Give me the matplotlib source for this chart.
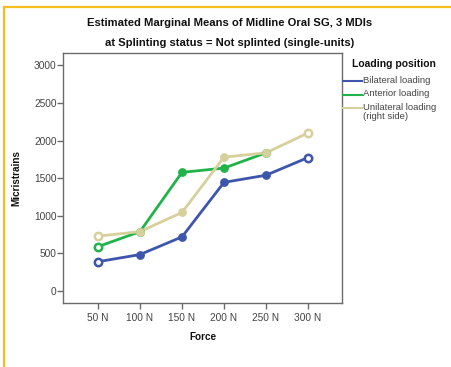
import numpy as np
import matplotlib
matplotlib.use("Agg")
import matplotlib.pyplot as plt
from matplotlib.lines import Line2D

plt.rcParams['font.family'] = ['Liberation Sans', 'DejaVu Sans']

categories = ["50 N", "100 N", "150 N", "200 N", "250 N", "300 N"]
bilateral = [390, 485, 720, 1445, 1540, 1775]
anterior = [590, 790, 1578, 1635, 1838, np.nan]
unilateral = [730, 790, 1045, 1780, 1838, 2102]
series_names = ["Bilateral loading", "Anterior loading", "Unilateral loading\n(right side)"]
series_colors = ["#3D56AC", "#22B24A", "#D6D09C"]
yticks = [0, 500, 1000, 1500, 2000, 2500, 3000]

W, H = 452, 367
fig = plt.figure(figsize=(W / 100, H / 100), dpi=100)
fig.patch.set_facecolor("white")

# axes in pixel coordinates
L, R, T, B = 63.5, 342.5, 53, 303
ax = fig.add_axes([L / W, 1 - B / H, (R - L) / W, (B - T) / H])

x = np.arange(len(categories))
for vals, col in zip([bilateral, anterior, unilateral], series_colors):
    v = np.array(vals, dtype=float)
    ax.plot(x, v, color=col, lw=2.0, solid_capstyle='round', zorder=3)
    valid = np.where(~np.isnan(v))[0]
    ends = [valid[0], valid[-1]] if valid[-1] == len(v) - 1 else [valid[0]]
    mids = [i for i in valid if i not in ends]
    ax.plot(x[mids], v[mids], 'o', color=col, ms=5.3, mec=col, mfc=col, zorder=4)
    ax.plot(x[ends], v[ends], 'o', color=col, ms=5.3, mec=col, mew=1.8, mfc='white', zorder=4)

ax.set_xlim(-0.82, 5.82)
ax.set_ylim(-159, 3165)
ax.set_xticks(x)
ax.set_xticklabels(categories)
ax.set_yticks(yticks)
ax.set_yticklabels([str(t) for t in yticks])
for s in ax.spines.values():
    s.set_color("#6b6b6b")
    s.set_linewidth(1.0)
ax.tick_params(axis='both', colors="#6b6b6b", labelcolor="#444444", labelsize=7.3,
               length=4, width=1.0, direction='out')
ax.tick_params(axis='x', pad=3)
ax.tick_params(axis='y', pad=1)

ax.set_xlabel("Force", fontsize=7.2, fontweight='bold', labelpad=7, color="#111111")
ax.set_ylabel("Micristrains", fontsize=7.2, fontweight='bold', labelpad=9, color="#111111")

fig.text(230 / W, 1 - 23.3 / H, "Estimated Marginal Means of Midline Oral SG, 3 MDIs",
         ha='center', va='center', fontsize=8.1, fontweight='bold', color="#111111")
fig.text(230 / W, 1 - 43.3 / H, "at Splinting status = Not splinted (single-units)",
         ha='center', va='center', fontsize=8.1, fontweight='bold', color="#111111")

# legend (manual)
fig.text(352 / W, 1 - 64 / H, "Loading position", ha='left', va='center',
         fontsize=7.5, fontweight='bold', color="#111111")
leg_y = [81, 94.5, 108]
for name, col, yy in zip(series_names, series_colors, leg_y):
    fig.add_artist(Line2D([343 / W, 362 / W], [1 - yy / H, 1 - yy / H], color=col, lw=1.5))
    fig.text(363 / W, 1 - (yy - 5) / H, name, ha='left', va='top', fontsize=6.8,
             color="#444444", linespacing=0.95)

# outer gold border
fig.add_artist(Line2D([4 / W, 4 / W], [0, 1 - 7 / H], color="#F5BE1E", lw=1.6))
fig.add_artist(Line2D([4 / W, 1], [1 - 7 / H, 1 - 7 / H], color="#F5BE1E", lw=1.6))

fig.savefig("out.png", dpi=100, facecolor="white")
